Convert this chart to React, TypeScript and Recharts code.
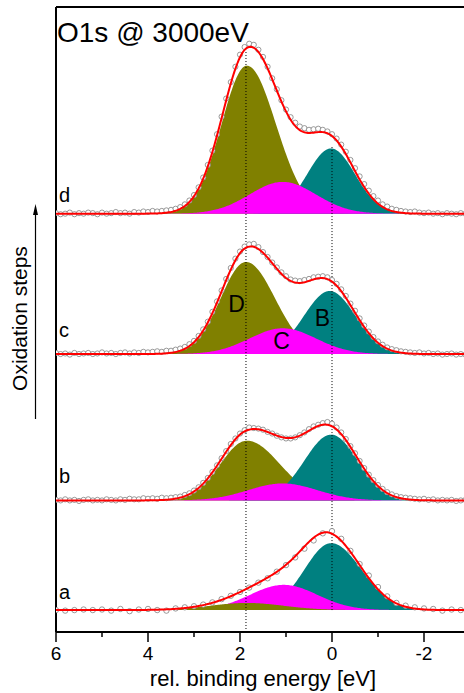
import React from "react";
import {
  ComposedChart, Area, Line, Scatter, XAxis, YAxis, ReferenceLine,
} from "recharts";

const FONT = "'Liberation Sans', Arial, Helvetica, sans-serif";
const OLIVE = "#808000";
const TEAL = "#008080";
const MAGENTA = "#ff00ff";
const FIT = "#ff0000";

// binding-energy ticks (eV), drawn high -> low
const X_TICKS = [6, 5, 4, 3, 2, 1, 0, -1, -2, -3];
const Y_TICKS = [0, 1, 2, 3, 4, 5, 6, 7, 8, 9, 10, 11];

// measured O1s intensities, offset-free, 6.0 .. -3.0 eV
// a: 0.2 eV steps, b/c/d: 0.1 eV steps
const SPEC_A = [
  0.0, -0.01, 0.0, 0.01, 0.0, 0.01, -0.01, 0.02, -0.02, 0.01,
  0.02, 0.0, -0.01, 0.03, 0.05, 0.07, 0.1, 0.14, 0.2, 0.26,
  0.33, 0.41, 0.5, 0.58, 0.7, 0.82, 0.96, 1.12, 1.27, 1.4,
  1.44, 1.3, 1.08, 0.84, 0.63, 0.42, 0.25, 0.13, 0.08, 0.05,
  0.03, 0.02, -0.01, 0.01, 0.0, -0.01,
];
const SPEC_B = [
  0.01, 0.0, 0.02, 0.0, 0.01, -0.01, 0.01, 0.02, 0.0, 0.01,
  0.0, 0.02, 0.01, 0.0, 0.02, 0.01, 0.03, 0.02, 0.02, 0.04,
  0.03, 0.04, 0.03, 0.05, 0.04, 0.05, 0.06, 0.07, 0.1, 0.13,
  0.18, 0.24, 0.32, 0.41, 0.52, 0.64, 0.77, 0.9, 1.03, 1.13,
  1.22, 1.28, 1.33, 1.32, 1.31, 1.29, 1.25, 1.22, 1.18, 1.15,
  1.13, 1.13, 1.15, 1.19, 1.24, 1.3, 1.35, 1.38, 1.41, 1.43,
  1.4, 1.33, 1.24, 1.12, 0.99, 0.86, 0.72, 0.59, 0.47, 0.37,
  0.28, 0.21, 0.15, 0.11, 0.08, 0.06, 0.05, 0.04, 0.03, 0.02,
  0.03, 0.01, 0.02, 0.0, 0.01, 0.0, 0.01, -0.01, 0.0, 0.01,
  0.0,
];
const SPEC_C = [
  0.02, 0.0, 0.01, -0.01, 0.02, 0.0, 0.01, 0.02, 0.0, 0.01,
  0.03, 0.01, 0.02, 0.0, 0.02, 0.03, 0.01, 0.03, 0.02, 0.04,
  0.03, 0.04, 0.05, 0.04, 0.06, 0.06, 0.08, 0.1, 0.13, 0.18,
  0.24, 0.33, 0.45, 0.59, 0.77, 0.96, 1.16, 1.37, 1.57, 1.74,
  1.87, 1.96, 2.0, 2.01, 1.95, 1.86, 1.77, 1.67, 1.58, 1.49,
  1.42, 1.36, 1.34, 1.33, 1.35, 1.37, 1.4, 1.41, 1.42, 1.4,
  1.35, 1.28, 1.18, 1.06, 0.92, 0.79, 0.65, 0.52, 0.41, 0.31,
  0.23, 0.17, 0.12, 0.09, 0.07, 0.05, 0.04, 0.03, 0.02, 0.03,
  0.01, 0.02, 0.0, 0.01, -0.01, 0.0, 0.01, -0.01, 0.0, -0.01,
  0.0,
];
const SPEC_D = [
  0.01, -0.01, 0.0, 0.02, -0.01, 0.01, 0.0, 0.02, 0.01, -0.01,
  0.02, 0.0, 0.01, 0.03, 0.01, 0.02, 0.0, 0.03, 0.02, 0.04,
  0.03, 0.05, 0.04, 0.05, 0.06, 0.07, 0.09, 0.12, 0.17, 0.24,
  0.34, 0.48, 0.66, 0.89, 1.15, 1.45, 1.77, 2.1, 2.4, 2.68,
  2.9, 3.04, 3.1, 3.08, 2.99, 2.86, 2.68, 2.47, 2.27, 2.07,
  1.9, 1.76, 1.66, 1.59, 1.56, 1.53, 1.54, 1.55, 1.53, 1.5,
  1.45, 1.37, 1.26, 1.13, 0.98, 0.83, 0.68, 0.54, 0.42, 0.32,
  0.24, 0.17, 0.13, 0.09, 0.07, 0.05, 0.04, 0.03, 0.04, 0.02,
  0.01, 0.02, 0.0, 0.01, -0.01, 0.01, 0.0, -0.01, 0.01, 0.0,
  0.0,
];

// vertical stacking offset of each oxidation step
const OFFSETS = [0, 2.0, 4.67, 7.23];

// fitted components [D, C, B]: centre (eV), height, width on high / low BE side
type Peak = { c: number; h: number; wHi: number; wLo: number };
const FIT_A: Peak[] = [
  { c: 1.85, h: 0.13, wHi: 0.8, wLo: 0.8 },
  { c: 1.05, h: 0.46, wHi: 0.73, wLo: 0.73 },
  { c: 0.02, h: 1.22, wHi: 0.58, wLo: 0.66 },
];
const FIT_B: Peak[] = [
  { c: 1.85, h: 1.09, wHi: 0.58, wLo: 0.72 },
  { c: 1.07, h: 0.31, wHi: 0.75, wLo: 0.75 },
  { c: 0.02, h: 1.2, wHi: 0.58, wLo: 0.58 },
];
const FIT_C: Peak[] = [
  { c: 1.87, h: 1.68, wHi: 0.55, wLo: 0.63 },
  { c: 1.07, h: 0.47, wHi: 0.72, wLo: 0.72 },
  { c: 0.05, h: 1.15, wHi: 0.56, wLo: 0.56 },
];
const FIT_D: Peak[] = [
  { c: 1.85, h: 2.7, wHi: 0.55, wLo: 0.63 },
  { c: 1.07, h: 0.58, wHi: 0.72, wLo: 0.72 },
  { c: 0.02, h: 1.19, wHi: 0.52, wLo: 0.52 },
];

// paint order of the components (indices into the fit arrays);
// in the unoxidised spectrum the small D band sits in front
const ORDER_A = [2, 1, 0];
const ORDER_REST = [0, 2, 1];

const PANELS = [
  { key: "a", spec: SPEC_A, step: 0.2, fit: FIT_A, off: OFFSETS[0], order: ORDER_A },
  { key: "b", spec: SPEC_B, step: 0.1, fit: FIT_B, off: OFFSETS[1], order: ORDER_REST },
  { key: "c", spec: SPEC_C, step: 0.1, fit: FIT_C, off: OFFSETS[2], order: ORDER_REST },
  { key: "d", spec: SPEC_D, step: 0.1, fit: FIT_D, off: OFFSETS[3], order: ORDER_REST },
];

function peakValue(e: number, p: Peak) {
  const w = e >= p.c ? p.wHi : p.wLo;
  const d = e - p.c;
  return p.h * Math.exp(-(d * d) / (2 * w * w));
}

// component curves + envelope evaluated on a fine energy grid
const ROWS: Record<string, any>[] = [];
for (let i = 0; i <= 360; i++) {
  const e = 6 - i * 0.025;
  const row: Record<string, any> = { x: e };
  PANELS.forEach((p) => {
    let sum = 0;
    p.fit.forEach((pk, k) => {
      const v = peakValue(e, pk);
      sum += v;
      row[`${p.key}${k}`] = [p.off, p.off + v];
    });
    row[`${p.key}fit`] = p.off + sum;
  });
  ROWS.push(row);
}

const POINTS = PANELS.map((p) =>
  p.spec.map((v, i) => ({ x: Math.round((6 - i * p.step) * 10) / 10, y: p.off + v }))
);

const ring = (r: number) => (props: any) => (
  <circle cx={props.cx} cy={props.cy} r={r} fill="#fff" stroke="#808080" strokeWidth={0.8} />
);

function BottomTick({ x, y, payload }: any) {
  const v = payload.value;
  const major = v % 2 === 0;
  return (
    <g>
      <line x1={x} x2={x} y1={y} y2={y + (major ? 10 : 5)} stroke="#000" strokeWidth={1.5} />
      {major && (
        <text x={x} y={y + 28} textAnchor="middle" fontSize={19} fontFamily={FONT} fill="#000">
          {v}
        </text>
      )}
    </g>
  );
}

const COMPONENT_FILL = [OLIVE, MAGENTA, TEAL];
const AXIS_LINE = { stroke: "#000", strokeWidth: 2 };
const TICK_LINE = { stroke: "#000", strokeWidth: 1.5 };

export default function App() {
  return (
    <div style={{ position: "fixed", left: 0, top: 0, width: 464, height: 693, overflow: "hidden", background: "#fff" }}>
      <ComposedChart width={480} height={693} data={ROWS} margin={{ top: 7, right: 10, bottom: 0, left: 0 }}>
        <XAxis
          dataKey="x" type="number" domain={[-3, 6]} reversed allowDataOverflow
          ticks={X_TICKS} interval={0} height={61} tickSize={0} tickMargin={0}
          tickLine={false} tick={<BottomTick />} axisLine={AXIS_LINE}
        />
        <XAxis
          xAxisId="t" orientation="top" dataKey="x" type="number" domain={[-3, 6]} reversed allowDataOverflow
          ticks={X_TICKS} interval={0} height={7} mirror tickSize={6} tick={false}
          tickLine={TICK_LINE} axisLine={AXIS_LINE}
        />
        <YAxis
          type="number" domain={[-0.4, 11]} allowDataOverflow ticks={Y_TICKS} interval={0}
          width={56} tickSize={10} tick={false} tickLine={TICK_LINE} axisLine={AXIS_LINE}
        />
        <YAxis
          yAxisId="r" orientation="right" type="number" domain={[-0.4, 11]} allowDataOverflow
          ticks={Y_TICKS} interval={0} width={11} mirror tickSize={11} tick={false}
          tickLine={TICK_LINE} axisLine={AXIS_LINE}
        />

        {PANELS.map((p) =>
          p.order.map((k) => (
            <Area
              key={`${p.key}${k}`} dataKey={`${p.key}${k}`} type="linear"
              stroke="none" fill={COMPONENT_FILL[k]} fillOpacity={1}
              isAnimationActive={false} dot={false} activeDot={false}
            />
          ))
        )}

        <ReferenceLine
          segment={[{ x: 1.87, y: -0.4 }, { x: 1.87, y: 10.2 }]} ifOverflow="visible"
          stroke="#000" strokeWidth={1} strokeDasharray="1 2"
        />
        <ReferenceLine
          segment={[{ x: 0, y: 0 }, { x: 0, y: 8.45 }]} ifOverflow="visible"
          stroke="#000" strokeWidth={1} strokeDasharray="1 2"
        />

        {PANELS.map((p, i) => (
          <Scatter
            key={`pts-${p.key}`} data={POINTS[i]} dataKey="y"
            shape={ring(p.key === "a" ? 2.7 : 2.6)} isAnimationActive={false} zIndex={600}
          />
        ))}

        {PANELS.map((p) => (
          <Line
            key={`fit-${p.key}`} dataKey={`${p.key}fit`} type="linear"
            stroke={FIT} strokeWidth={2} dot={false} activeDot={false}
            isAnimationActive={false} zIndex={700}
          />
        ))}
      </ComposedChart>

      <svg width={464} height={693} style={{ position: "absolute", left: 0, top: 0, pointerEvents: "none" }} fontFamily={FONT}>
        <text x={57} y={41.5} fontSize={28} fill="#000">O1s @ 3000eV</text>

        <text x={59} y={202} fontSize={20} fill="#000">d</text>
        <text x={59} y={337} fontSize={20} fill="#000">c</text>
        <text x={59} y={483} fontSize={20} fill="#000">b</text>
        <text x={59} y={599} fontSize={20} fill="#000">a</text>

        <text x={236.5} y={312} fontSize={23} textAnchor="middle" fill="#000">D</text>
        <text x={281.5} y={349} fontSize={23} textAnchor="middle" fill="#000">C</text>
        <text x={322.5} y={326} fontSize={23} textAnchor="middle" fill="#000">B</text>

        <text transform="translate(27,318.5) rotate(-90)" fontSize={21} textAnchor="middle" fill="#000">
          Oxidation steps
        </text>
        <line x1={35.5} y1={419} x2={35.5} y2={212} stroke="#000" strokeWidth={1.2} />
        <polygon points="35.5,204 33,215 38,215" fill="#000" />

        <text x={263} y={686} fontSize={22} textAnchor="middle" fill="#000">rel. binding energy [eV]</text>
      </svg>
    </div>
  );
}
